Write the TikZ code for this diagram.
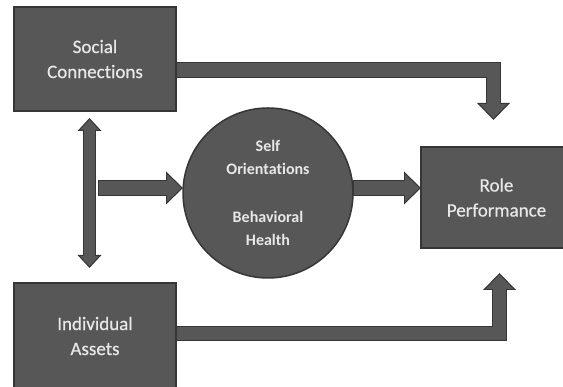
\documentclass[tikz,border=0pt]{standalone}
\usepackage{fontspec}
\setmainfont{Carlito}[Ligatures=NoCommon]
\newfontfamily\boxfont{Carlito}[Ligatures=NoCommon, FakeBold=0.5]
\usetikzlibrary{arrows.meta,calc}
\definecolor{boxfill}{HTML}{575757}
\definecolor{boxedge}{HTML}{363636}
\definecolor{boxtext}{HTML}{E8E8E8}
\tikzset{
  factor/.style={rectangle, fill=boxfill, draw=boxedge, line width=1.5pt, text=boxtext,
    align=center, inner sep=0pt, outer sep=0pt, font=\boxfont\fontsize{19}{25}\selectfont},
  state/.style={circle, fill=boxfill, draw=boxedge, line width=1.5pt, text=boxtext,
    align=center, inner sep=0pt, outer sep=0pt, minimum size=170pt,
    font=\bfseries\fontsize{16}{23.5}\selectfont},
  bigarrow/.style={draw=boxfill, line width=13.2pt, line join=miter,
    shorten >=1.7pt, shorten <=1.2pt,
    -{Triangle[width=27.3pt,length=14.1pt,line width=0pt]},
    preaction={draw=boxedge, line width=15.6pt, shorten >=0pt, shorten <=0pt,
      -{Triangle[width=33pt,length=17pt,line width=0pt]}}},
  linkarrow/.style={draw=boxfill, line width=10.6pt, line join=miter,
    shorten >=1.8pt, shorten <=1.8pt,
    {Triangle[width=18.5pt,length=10pt,line width=0pt]}-{Triangle[width=18.5pt,length=10pt,line width=0pt]},
    preaction={draw=boxedge, line width=13pt, shorten >=0pt, shorten <=0pt,
      {Triangle[width=24pt,length=13pt,line width=0pt]}-{Triangle[width=24pt,length=13pt,line width=0pt]}}},
}
\begin{document}
\begin{tikzpicture}[x=1pt, y=1pt]
\useasboundingbox (0,0) rectangle (563,387);
    \node[factor, minimum width=162pt, minimum height=104pt] (social) at (95,328) {Social\\Connections};
    \node[factor, minimum width=162pt, minimum height=106pt] (assets) at (95,51) {Individual\\Assets};
    \node[factor, minimum width=151pt, minimum height=101pt] (role) at (496.5,189.5) {Role\\Performance};
    \node[state] (self) at (268,194) {Self\\Orientations\\[24pt]Behavioral\\Health};
    \coordinate (topend) at ($(role.north)+(-3,27)$);
    \coordinate (botend) at ($(role.south)+(3,-25)$);
    \coordinate (fork) at (98,199);
    % arrows
    \draw[bigarrow] ($(social.east)+(0,-11)$) -| (topend);
    \draw[bigarrow] ($(assets.east)+(0,2.5)$) -| (botend);
    \draw[linkarrow] ($(social.south)+(-5.5,-7)$) -- ($(assets.north)+(-5.5,15)$);
    \draw[bigarrow] (fork) -- (fork -| self.west);
    \draw[bigarrow] (fork -| self.east) -- (fork -| role.west);
\end{tikzpicture}
\end{document}
